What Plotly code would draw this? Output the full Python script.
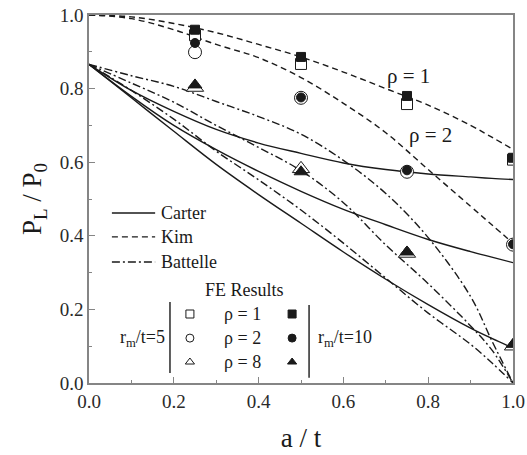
import plotly.graph_objects as go

# ---------------- data ----------------
a_t = [0.0, 0.1, 0.2, 0.3, 0.4, 0.5, 0.6, 0.7, 0.8, 0.9, 0.95, 1.0]

# Carter solutions
carter_1 = [0.866, 0.795, 0.738, 0.689, 0.652, 0.624, 0.598, 0.580, 0.568, 0.560, 0.556, 0.553]
carter_2 = [0.866, 0.779, 0.700, 0.634, 0.575, 0.521, 0.472, 0.430, 0.390, 0.357, 0.342, 0.327]
carter_3 = [0.866, 0.775, 0.684, 0.594, 0.512, 0.434, 0.356, 0.282, 0.213, 0.149, 0.121, 0.095]

# Kim solutions
kim_rho1 = [1.000, 0.995, 0.977, 0.952, 0.920, 0.886, 0.845, 0.800, 0.755, 0.700, 0.668, 0.635]
kim_rho2 = [1.000, 0.990, 0.960, 0.920, 0.884, 0.830, 0.760, 0.680, 0.580, 0.480, 0.430, 0.380]

# Battelle solutions
battelle_1 = [0.866, 0.835, 0.806, 0.765, 0.724, 0.676, 0.605, 0.515, 0.395, 0.235, 0.115, 0.0]
battelle_2 = [0.866, 0.815, 0.763, 0.700, 0.640, 0.577, 0.490, 0.375, 0.270, 0.155, 0.090, 0.0]
battelle_3 = [0.866, 0.795, 0.717, 0.630, 0.552, 0.470, 0.380, 0.285, 0.190, 0.105, 0.055, 0.0]

# FE results
fe_a_t = [0.25, 0.5, 0.75, 1.0]
fe_rm5_rho1 = [0.945, 0.867, 0.758, 0.607]
fe_rm5_rho2 = [0.899, 0.775, 0.574, 0.376]
fe_rm5_rho8 = [0.803, 0.582, 0.352, 0.100]
fe_rm10_rho1 = [0.960, 0.886, 0.780, 0.612]
fe_rm10_rho2 = [0.924, 0.776, 0.578, 0.377]
fe_rm10_rho8 = [0.810, 0.574, 0.356, 0.105]

x_ticks = [0.0, 0.2, 0.4, 0.6, 0.8, 1.0]
y_ticks = [0.0, 0.2, 0.4, 0.6, 0.8, 1.0]

# ---------------- styling ----------------
FONT = "'Times New Roman', 'Liberation Serif', Tinos, 'Nimbus Roman', 'DejaVu Serif', serif"
INK = "#1a1a1a"
AXIS = "#858585"
DASH = "6px,4px"
DASHDOT = "8px,3px,2px,3px"

fig = go.Figure()

def curve(y, dash):
    fig.add_trace(go.Scatter(x=a_t, y=y, mode="lines", line_shape="spline",
                             line=dict(color=INK, width=1.4, dash=dash),
                             showlegend=False, hoverinfo="skip"))

for y in (carter_1, carter_2, carter_3):
    curve(y, "solid")
for y in (kim_rho1, kim_rho2):
    curve(y, DASH)
for y in (battelle_1, battelle_2, battelle_3):
    curve(y, DASHDOT)

def points(y, symbol, size, filled):
    fig.add_trace(go.Scatter(
        x=fe_a_t, y=y, mode="markers", showlegend=False,
        marker=dict(symbol=symbol, size=size,
                    color=INK if filled else "white",
                    line=dict(color=INK, width=1.0))))

# open markers first (r_m/t = 5), filled ones on top (r_m/t = 10)
points(fe_rm5_rho1, "square", 11, False)
points(fe_rm5_rho2, "circle", 13, False)
points(fe_rm5_rho8, "triangle-up", 15, False)
points(fe_rm10_rho1, "square", 9, True)
points(fe_rm10_rho2, "circle", 9, True)
points(fe_rm10_rho8, "triangle-up", 12, True)

# ---------------- key ----------------
key_lines = [("Carter", "solid", 0.462), ("Kim", DASH, 0.397), ("Battelle", DASHDOT, 0.329)]
for name, dash, yk in key_lines:
    fig.add_trace(go.Scatter(x=[0.054, 0.156], y=[yk, yk], mode="lines",
                             line=dict(color=INK, width=1.4, dash=dash),
                             showlegend=False, hoverinfo="skip"))
    fig.add_annotation(x=0.165, y=yk, text=name, showarrow=False, xanchor="left",
                       font=dict(family=FONT, size=18, color=INK))

fig.add_annotation(x=0.366, y=0.253, text="FE Results", showarrow=False,
                   font=dict(family=FONT, size=18, color=INK))

key_rows = [0.1875, 0.122, 0.057]
key_labels = ["ρ = 1", "ρ = 2", "ρ = 8"]
key_symbols = ["square", "circle", "triangle-up"]
fig.add_trace(go.Scatter(x=[0.238] * 3, y=key_rows, mode="markers", showlegend=False,
                         marker=dict(symbol=key_symbols, size=8, color="white",
                                     line=dict(color=INK, width=1))))
fig.add_trace(go.Scatter(x=[0.479] * 3, y=key_rows, mode="markers", showlegend=False,
                         marker=dict(symbol=key_symbols, size=8, color=INK,
                                     line=dict(color=INK, width=1))))
for yk, lab in zip(key_rows, key_labels):
    fig.add_annotation(x=0.362, y=yk, text=lab, showarrow=False,
                       font=dict(family=FONT, size=18, color=INK))

fig.add_shape(type="line", x0=0.191, x1=0.191, y0=0.027, y1=0.22,
              line=dict(color=INK, width=1.4))
fig.add_shape(type="line", x0=0.519, x1=0.519, y0=0.014, y1=0.212,
              line=dict(color=INK, width=1.4))
fig.add_annotation(x=0.184, y=0.122, text="r<sub>m</sub>/t=5", showarrow=False,
                   xanchor="right", font=dict(family=FONT, size=18, color=INK))
fig.add_annotation(x=0.535, y=0.122, text="r<sub>m</sub>/t=10", showarrow=False,
                   xanchor="left", font=dict(family=FONT, size=18, color=INK))

# curve labels
fig.add_annotation(x=0.753, y=0.835, text="ρ = 1", showarrow=False,
                   font=dict(family=FONT, size=21, color=INK))
fig.add_annotation(x=0.805, y=0.675, text="ρ = 2", showarrow=False,
                   font=dict(family=FONT, size=21, color=INK))

axis_common = dict(
    range=[0, 1], showline=True, linecolor=AXIS, linewidth=1.5, mirror=True,
    ticks="inside", ticklen=6, tickwidth=1.2, tickcolor=AXIS,
    showgrid=False, zeroline=False, automargin=False,
    tickfont=dict(family=FONT, size=19, color="#2a2a2a"),
    tickformat=".1f",
    minor=dict(ticks="inside", ticklen=3, tickwidth=1.2, tickcolor=AXIS, dtick=0.1, showgrid=False),
)

fig.update_xaxes(**axis_common, tickvals=x_ticks,
                 title=dict(text="a / t", font=dict(family=FONT, size=27, color=INK), standoff=18))
fig.update_yaxes(**axis_common, tickvals=y_ticks,
                 title=dict(text="P<sub>L</sub> / P<sub>0</sub>",
                            font=dict(family=FONT, size=27, color=INK), standoff=10))

fig.update_layout(
    width=527, height=455,
    margin=dict(l=89, r=14, t=15, b=72),
    paper_bgcolor="white", plot_bgcolor="white",
    font=dict(family=FONT, color=INK),
    showlegend=False,
)

fig.write_html("out.html")
